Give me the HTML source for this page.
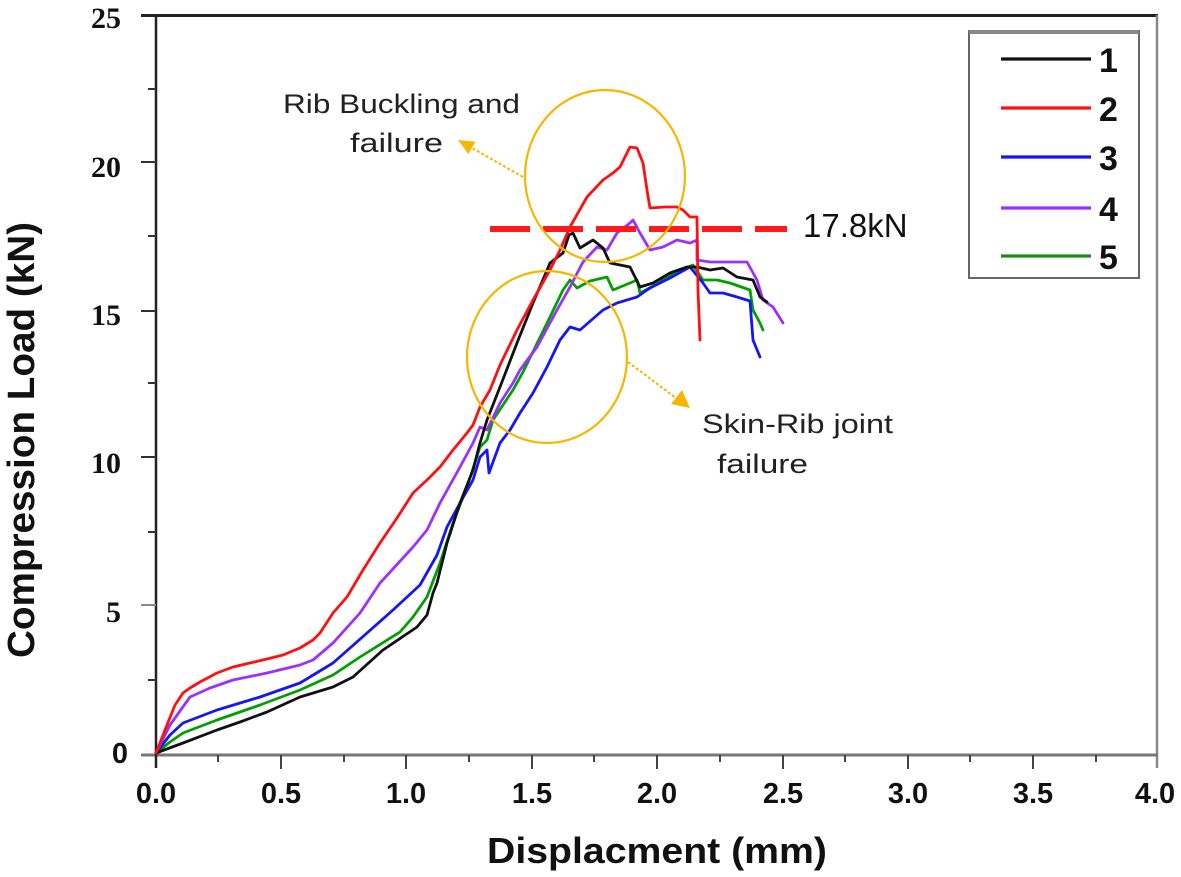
<!DOCTYPE html>
<html>
<head>
<meta charset="utf-8">
<style>
html,body{margin:0;padding:0;background:#fff;}
svg{display:block;}
</style>
</head>
<body>
<svg width="1181" height="877" viewBox="0 0 1181 877" xmlns="http://www.w3.org/2000/svg">
<rect width="1181" height="877" fill="#fff"/>

<!-- axes frame -->
<line x1="141" y1="15.5" x2="1158" y2="15.5" stroke="#222" stroke-width="3"/>
<line x1="1157" y1="15" x2="1157" y2="768" stroke="#888" stroke-width="2.5"/>
<line x1="141" y1="755" x2="1158" y2="755" stroke="#777" stroke-width="3"/>
<line x1="156" y1="15" x2="156" y2="768" stroke="#222" stroke-width="2.5"/>

<!-- y ticks -->
<g stroke="#333" stroke-width="2">
<line x1="141" y1="162" x2="156" y2="162"/>
<line x1="141" y1="311" x2="156" y2="311"/>
<line x1="141" y1="457" x2="156" y2="457"/>
<line x1="141" y1="605" x2="156" y2="605" stroke="#888"/>
<line x1="148" y1="89" x2="156" y2="89"/>
<line x1="148" y1="236" x2="156" y2="236"/>
<line x1="148" y1="383" x2="156" y2="383"/>
<line x1="148" y1="532" x2="156" y2="532"/>
<line x1="148" y1="680" x2="156" y2="680"/>
</g>
<!-- x ticks -->
<g stroke="#444" stroke-width="2">
<line x1="281" y1="755" x2="281" y2="769"/>
<line x1="406" y1="755" x2="406" y2="769"/>
<line x1="532" y1="755" x2="532" y2="769"/>
<line x1="657" y1="755" x2="657" y2="769"/>
<line x1="783" y1="755" x2="783" y2="769"/>
<line x1="908" y1="755" x2="908" y2="769"/>
<line x1="1033" y1="755" x2="1033" y2="769"/>
<line x1="218" y1="755" x2="218" y2="762"/>
<line x1="344" y1="755" x2="344" y2="762"/>
<line x1="469" y1="755" x2="469" y2="762"/>
<line x1="594" y1="755" x2="594" y2="762"/>
<line x1="720" y1="755" x2="720" y2="762"/>
<line x1="845" y1="755" x2="845" y2="762"/>
<line x1="970" y1="755" x2="970" y2="762"/>
<line x1="1096" y1="755" x2="1096" y2="762"/>
</g>

<!-- y tick labels -->
<g font-family="Liberation Serif, serif" font-weight="bold" font-size="30" fill="#111" text-anchor="end">
<text x="121" y="28">25</text>
<text x="121" y="177">20</text>
<text x="121" y="325">15</text>
<text x="121" y="473">10</text>
<text x="121" y="622">5</text>
</g>
<text x="128" y="763" font-family="Liberation Sans, sans-serif" font-weight="bold" font-size="29" fill="#111" text-anchor="end">0</text>

<!-- x tick labels -->
<g font-family="Liberation Sans, sans-serif" font-weight="bold" font-size="29" fill="#111" text-anchor="middle">
<text x="156" y="803">0.0</text>
<text x="281" y="803">0.5</text>
<text x="406" y="803">1.0</text>
<text x="532" y="803">1.5</text>
<text x="657" y="803">2.0</text>
<text x="783" y="803">2.5</text>
<text x="908" y="803">3.0</text>
<text x="1033" y="803">3.5</text>
<text x="1155" y="803">4.0</text>
</g>

<!-- axis titles -->
<text x="487" y="863" font-family="Liberation Sans, sans-serif" font-weight="bold" font-size="36" fill="#111" textLength="340" lengthAdjust="spacingAndGlyphs">Displacment (mm)</text>
<text transform="translate(34,658) rotate(-90)" x="0" y="0" font-family="Liberation Sans, sans-serif" font-weight="bold" font-size="38" fill="#111" textLength="436" lengthAdjust="spacingAndGlyphs">Compression Load (kN)</text>

<!-- curves -->
<g fill="none" stroke-width="2.8" stroke-linejoin="round" stroke-linecap="round">
<polyline stroke="#00a000" stroke="#1a8a1a" points="156,753 170,742 183,733 217,720 260,705 300,690 333,675 360,657 400,632 413,617 427,597 440,563 453,523 467,487 480,447 487,440 493,420 513,390 523,372 550,317 563,290 570,280 577,288 590,281 607,277 613,290 630,283 637,280 640,293 657,284 677,271 693,265 703,280 717,280 730,283 750,290 753,310 760,323 763,330"/>
<polyline stroke="#1515f5" points="156,753 170,735 183,723 217,710 260,697 300,683 333,663 367,633 393,610 420,585 437,555 447,527 460,503 473,480 480,457 487,450 489,473 500,443 510,430 520,413 533,393 547,367 560,340 570,327 580,330 603,310 617,303 637,297 650,288 670,278 690,267 703,283 710,293 723,293 737,297 750,301 753,340 760,357"/>
<polyline stroke="#9b30ff" points="156,753 170,725 190,697 210,688 233,680 267,673 300,665 313,660 333,643 360,613 380,583 413,547 427,530 440,503 460,467 473,443 480,427 487,430 500,403 513,383 520,370 537,347 557,310 570,287 583,262 597,247 607,250 617,233 630,223 633,220 640,233 650,250 663,247 677,240 690,243 697,240 697,260 710,262 747,262 757,280 763,300 773,307 783,323"/>
<polyline stroke="#111" points="156,753 183,743 217,730 240,722 267,712 300,697 333,687 353,677 383,650 417,627 427,615 433,593 437,583 447,543 460,503 473,470 480,443 487,420 500,387 517,343 533,303 550,263 563,253 569,235 573,233 580,248 593,240 603,248 610,263 630,267 640,287 653,283 670,273 687,267 697,267 710,270 723,268 737,277 753,280 760,297 767,302"/>
<polyline stroke="#ff1010" points="156,753 165,730 175,705 183,693 190,688 200,682 217,673 233,667 250,663 267,659 283,655 300,648 313,640 320,633 333,613 347,597 363,570 380,543 397,518 413,493 427,480 440,467 453,450 467,433 473,425 480,407 490,390 500,365 517,330 533,300 550,270 560,250 570,227 587,197 603,180 613,173 620,167 630,147 637,148 643,163 647,190 650,208 665,207 677,207 683,210 690,217 697,217 698,290 700,340"/>
</g>

<!-- 17.8 kN dashed line -->
<line x1="490" y1="229" x2="787" y2="229" stroke="#ff1a1a" stroke-width="6" stroke-dasharray="40 13"/>
<text x="803" y="237" font-family="Liberation Sans, sans-serif" font-size="33" fill="#111">17.8kN</text>

<!-- circles -->
<ellipse cx="605" cy="176" rx="80" ry="86" fill="none" stroke="#f7b500" stroke-width="2.2"/>
<ellipse cx="547" cy="357" rx="80" ry="86" fill="none" stroke="#f7b500" stroke-width="2.2"/>

<!-- arrows -->
<line x1="523" y1="177" x2="472" y2="148" stroke="#f7b500" stroke-width="2" stroke-dasharray="3 2"/>
<polygon points="458,140 475.4,141.8 468.4,154.0" fill="#f7b500"/>
<line x1="628" y1="362" x2="676" y2="398" stroke="#f7b500" stroke-width="2" stroke-dasharray="3 2"/>
<polygon points="690,408 671,404 682,390" fill="#f7b500"/>

<!-- annotation texts -->
<g font-family="Liberation Sans, sans-serif" font-size="27" fill="#222">
<text x="283" y="113" textLength="237" lengthAdjust="spacingAndGlyphs">Rib Buckling and</text>
<text x="350" y="152" textLength="93" lengthAdjust="spacingAndGlyphs">failure</text>
<text x="702" y="433" textLength="191" lengthAdjust="spacingAndGlyphs">Skin-Rib joint</text>
<text x="717" y="473" textLength="91" lengthAdjust="spacingAndGlyphs">failure</text>
</g>

<!-- legend -->
<rect x="969" y="31" width="170" height="247" fill="#fff" stroke="#666" stroke-width="2"/>
<line x1="969" y1="32" x2="1139" y2="32" stroke="#888" stroke-width="4"/>
<g stroke-width="3.2">
<line x1="1001" y1="59" x2="1091" y2="59" stroke="#111"/>
<line x1="1001" y1="108" x2="1091" y2="108" stroke="#ff1010"/>
<line x1="1001" y1="157" x2="1091" y2="157" stroke="#1515f5"/>
<line x1="1001" y1="208" x2="1091" y2="208" stroke="#9b30ff"/>
<line x1="1001" y1="256" x2="1091" y2="256" stroke="#1a8a1a"/>
</g>
<g font-family="Liberation Sans, sans-serif" font-weight="bold" font-size="34" fill="#111">
<text x="1099" y="72">1</text>
<text x="1099" y="121">2</text>
<text x="1099" y="170">3</text>
<text x="1099" y="221">4</text>
<text x="1099" y="269">5</text>
</g>
</svg>
</body>
</html>
